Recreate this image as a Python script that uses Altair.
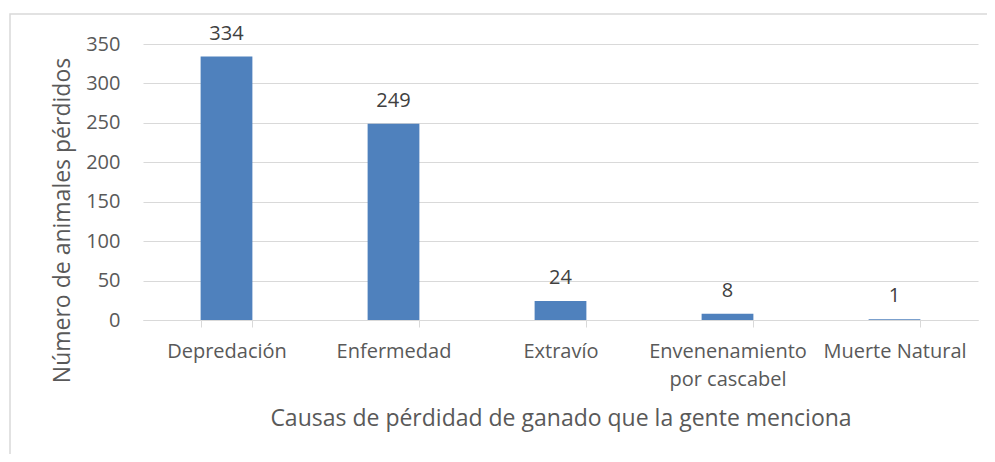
import altair as alt
import pandas as pd

categories = ["Depredación", "Enfermedad", "Extravío", "Envenenamiento por cascabel", "Muerte Natural"]
values = [334, 249, 24, 8, 1]
y_ticks = [0, 50, 100, 150, 200, 250, 300, 350]

df = pd.DataFrame({"causa": categories, "n": values})

FONT = "Open Sans"
TXT = "#595959"
LBL = 20
TTL = 23

x_enc = alt.X(
    "causa:N",
    sort=categories,
    scale=alt.Scale(paddingInner=0.69, paddingOuter=0.345),
    axis=alt.Axis(
        title="Causas de pérdidad de ganado que la gente menciona",
        labelAngle=0,
        labelFontSize=LBL,
        labelColor=TXT,
        labelFont=FONT,
        labelPadding=14,
        labelLimit=240,
        labelOverlap=False,
        labelLineHeight=28,
        labelExpr="datum.label == 'Envenenamiento por cascabel' ? ['Envenenamiento', 'por cascabel'] : datum.label",
        tickBand="extent",
        tickColor="#d9d9d9",
        tickSize=7,
        domainColor="#d9d9d9",
        grid=False,
        titleFontSize=TTL,
        titleFont=FONT,
        titleFontWeight="normal",
        titleColor=TXT,
        titleY=98,
        titleBaseline="middle",
    ),
)

y_enc = alt.Y(
    "n:Q",
    scale=alt.Scale(domain=[0, 350], nice=False),
    axis=alt.Axis(
        title="Número de animales pérdidos",
        values=y_ticks,
        grid=True,
        gridColor="#d9d9d9",
        domain=False,
        ticks=False,
        labelOverlap=False,
        labelFontSize=LBL,
        labelColor=TXT,
        labelFont=FONT,
        labelPadding=23,
        titleFontSize=TTL,
        titleFont=FONT,
        titleFontWeight="normal",
        titleColor=TXT,
        titleX=-81,
        titleY=176,
        titleAngle=270,
        titleAlign="center",
        titleBaseline="middle",
    ),
)

base = alt.Chart(df).encode(x=x_enc, y=y_enc)
bars = base.mark_bar(color="#4F81BD")
labels = base.mark_text(
    baseline="bottom", dy=-13, fontSize=LBL, font=FONT, color="#404040"
).encode(text="n:Q")

border = alt.Chart(pd.DataFrame({"a": [0]})).mark_rect(
    fill=None, stroke="#d9d9d9", strokeWidth=1.5
).encode(
    x=alt.value(-133), x2=alt.value(1000), y=alt.value(-30), y2=alt.value(600)
)

chart = alt.layer(border, bars, labels).properties(
    width=835,
    height=276,
    background="white",
    autosize=alt.AutoSizeParams(type="none"),
    padding={"left": 135, "top": 36, "right": 9, "bottom": 134},
).configure_view(stroke=None, strokeWidth=0)

chart.save("out.html", embed_options={"renderer": "svg", "actions": False})
